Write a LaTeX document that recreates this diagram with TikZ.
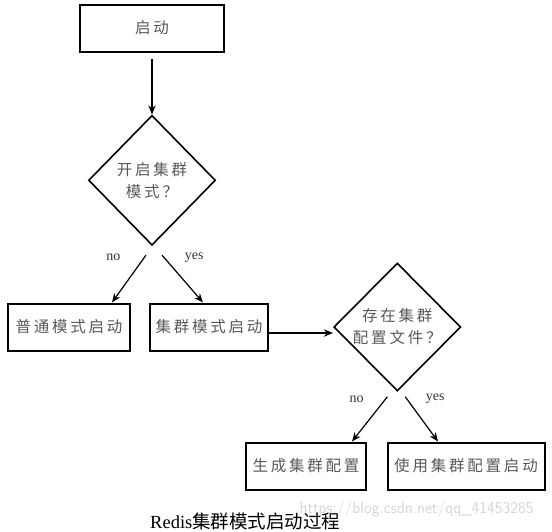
\documentclass[tikz,border=0pt]{standalone}
\usepackage{fontspec}
\setmainfont{Liberation Serif}
\newfontfamily\cjk{Noto Sans CJK SC}
\newfontfamily\cjksketch[LetterSpace=18]{Noto Sans CJK SC}
\usetikzlibrary{positioning,arrows.meta,shapes.geometric}
\definecolor{SketchGray}{RGB}{88,88,88}
\definecolor{MarkGray}{RGB}{215,215,215}
\tikzset{
  box/.style={draw=black,line width=2pt,minimum height=47pt,inner sep=0pt,align=center,text=SketchGray,font=\cjksketch\fontsize{15.5}{18}\selectfont},
  decide/.style={diamond,draw=black,line width=1.6pt,minimum width=127pt,minimum height=130pt,inner sep=0pt,align=center,text=SketchGray,font=\cjksketch\fontsize{15.5}{22}\selectfont},
  arrow/.style={-{Stealth[length=3.2mm,width=2.6mm]},line width=1.2pt,draw=black},
  lbl/.style={font=\fontsize{14}{16}\selectfont,text=black!80},
}
\begin{document}
\begin{tikzpicture}[x=1pt,y=-1pt]
  \useasboundingbox (0,0) rectangle (552,531);
  \node[box,minimum width=144pt] (start) at (152,28) {启动};
  \node[decide,below=62pt of start] (qcluster) {开启集群\\模式？};
  \node[box,minimum width=122pt] (normal) at (69,327) {普通模式启动};
  \node[box,minimum width=118pt] (cluster) at (209,327) {集群模式启动};
  \node[decide,minimum height=128pt,right=64pt of cluster] (qconf) {存在集群\\配置文件？};
  \node[box,minimum width=120pt] (gen) at (306,466) {生成集群配置};
  \node[box,minimum width=157pt] (usecfg) at (466,466) {使用集群配置启动};
  \draw[arrow] ([yshift=-6pt]start.south) -- (qcluster.north);
  \draw[arrow] ([xshift=-6pt,yshift=-9pt]qcluster.south) -- node[lbl,pos=0.05,left=20pt]{no} ([xshift=43pt]normal.north);
  \draw[arrow] ([xshift=10pt,yshift=-9pt]qcluster.south) -- node[lbl,pos=0.05,right=17pt]{yes} ([xshift=-6pt]cluster.north);
  \draw[arrow,line width=1.8pt] ([yshift=-6pt]cluster.east) -- ([yshift=-6pt]qconf.west);
  \draw[arrow] ([xshift=-10pt,yshift=-5pt]qconf.south) -- node[lbl,pos=0.05,left=18pt]{no} ([xshift=46pt]gen.north);
  \draw[arrow] ([xshift=8pt,yshift=-5pt]qconf.south) -- node[lbl,pos=0.05,right=15pt]{yes} ([xshift=-28pt]usecfg.north);
  \node[anchor=west,text=MarkGray,font=\sffamily\fontsize{16.5}{18}\selectfont] (mark) at (296,509) {https://blog.csdn.net/qq\_41453285};
  \node[anchor=west,inner sep=0pt,font=\fontsize{18.5}{21}\selectfont] (caption) at (150,521) {Redis{\cjk 集群模式启动过程}};
\end{tikzpicture}
\end{document}
